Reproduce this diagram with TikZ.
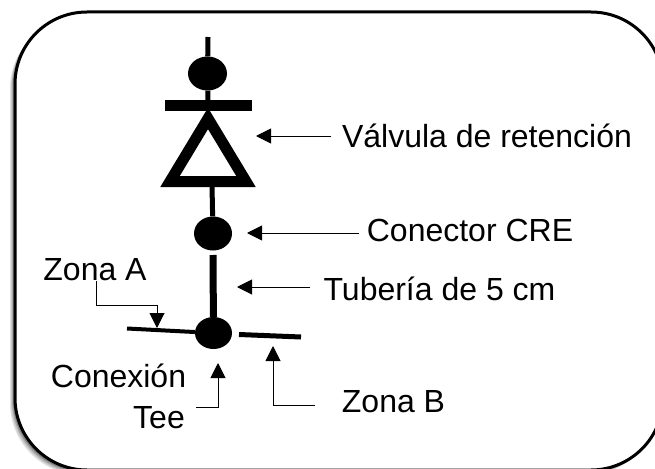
\documentclass[tikz,border=0pt]{standalone}
\usepackage{fontspec}
\setmainfont{Liberation Sans}
\usepackage{tikz}
\usetikzlibrary{arrows.meta, shapes.geometric}

\begin{document}
\begin{tikzpicture}[x=1pt, y=-1pt,
        junta/.style = {shape=ellipse, fill=black, draw=none, inner sep=0pt},
        etiqueta/.style = {font=\fontsize{32}{36}\selectfont, inner sep=0pt, outer sep=0pt, align=center},
        flecha/.style = {-{Triangle[length=15pt, width=15pt]}, line width=1pt},
        tubo/.style = {line cap=butt}]
        \useasboundingbox (0,0) rectangle (655,468);
        \clip (0,0) rectangle (655,468);
        \fill [white] (0,0) rectangle (655,468);

        % marco
        \foreach \d/\g in {5/12, 4/22, 3/35, 2/50}
            \fill [black!\g, rounded corners=72pt] (15-\d,12+\d) rectangle (663-\d,470+\d);
        \draw [line width=3pt, fill=white, rounded corners=72pt] (15,12) rectangle (663,470);

        % juntas
        \node [junta, minimum width=39pt, minimum height=34pt] (juntaTop) at (207.5,73.5) {};
        \node [junta, minimum width=38pt, minimum height=34pt] (juntaCre) at (213,233.5) {};
        \node [junta, minimum width=37pt, minimum height=32pt] (juntaTee) at (213.5,333) {};

        % valvula
        \coordinate (entrada) at (208,37);
        \coordinate (barraL) at (165,105.5);
        \coordinate (barraR) at (252,105.5);
        \coordinate (barraC) at (208,105.5);
        \coordinate (baseC) at (212,186);
        \draw [tubo, line width=5pt] (entrada) -- (juntaTop);
        \draw [tubo, line width=5pt] (juntaTop) -- (barraC);
        \draw [tubo, line width=10.5pt] (barraL) -- (barraR);
        \draw [line width=11pt, line join=miter] (208,118.5) -- (170,181.5) -- (246,181.5) -- cycle;
        \draw [tubo, line width=5pt] (baseC) -- (juntaCre);

        % tuberias
        \coordinate (tuboFin) at (213,255);
        \coordinate (zonaAIni) at (127,328.5);
        \coordinate (zonaBIni) at (239,334.5);
        \coordinate (zonaBFin) at (301,337);
        \draw [tubo, line width=7pt] (tuboFin) -- (juntaTee);
        \draw [tubo, line width=4pt] (zonaAIni) -- (juntaTee);
        \draw [tubo, line width=5pt] (zonaBIni) -- (zonaBFin);

        % etiquetas
        \node [etiqueta] (lblValvula) at (487,136) {Válvula de retención};
        \node [etiqueta] (lblConector) at (470,230) {Conector CRE};
        \node [etiqueta] (lblTuberia) at (439.5,289) {Tubería de 5 cm};
        \node [etiqueta] (lblZonaA) at (95,270) {Zona A};
        \node [etiqueta] (lblConexion) at (118.5,376) {Conexión};
        \node [etiqueta] (lblTee) at (159,418) {Tee};
        \node [etiqueta] (lblZonaB) at (393.5,402) {Zona B};

        % flechas
        \coordinate (ptValvula) at (256,136);
        \coordinate (ptConector) at (247,233);
        \coordinate (ptTuberia) at (237,287);
        \coordinate (ptZonaA) at (157,328);
        \coordinate (ptTee) at (218,363);
        \coordinate (ptZonaB) at (273,346);
        \draw [flecha, shorten <=11pt] (lblValvula.west |- ptValvula) -- (ptValvula);
        \draw [flecha, shorten <=8pt] (lblConector.west |- ptConector) -- (ptConector);
        \draw [flecha, shorten <=14pt] (lblTuberia.west |- ptTuberia) -- (ptTuberia);
        \draw [flecha] (lblZonaA.south -| 96,0) -- (96,305) -| (ptZonaA);
        \draw [flecha, shorten <=11pt] (lblTee.east |- 0,407) -- (ptTee |- 0,407) -- (ptTee);
        \draw [flecha, shorten <=27pt] (lblZonaB.west |- 0,405) -- (ptZonaB |- 0,405) -- (ptZonaB);
\end{tikzpicture}
\end{document}
